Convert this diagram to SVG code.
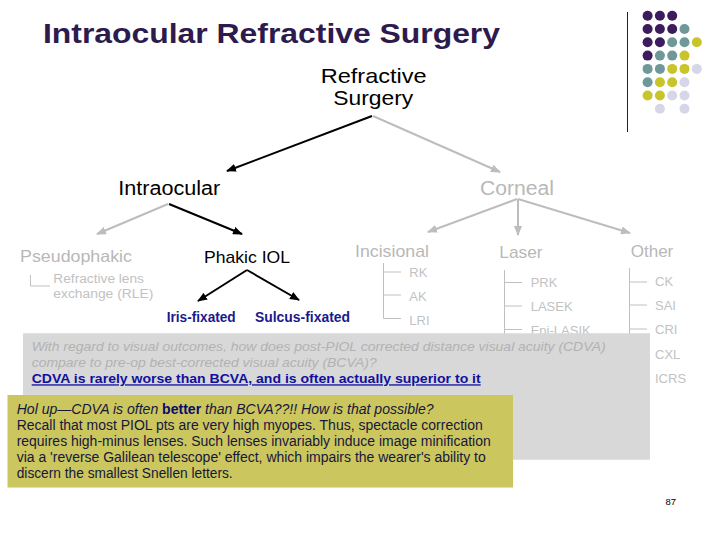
<svg xmlns="http://www.w3.org/2000/svg" width="720" height="540" viewBox="0 0 720 540">
<style>
text{font-family:"Liberation Sans",Arial,sans-serif}
.title{font-size:28px;font-weight:bold;fill:#2d1b4e}
.blk{fill:#000}
.gry{fill:#b8b8b8}
.lt{fill:#c2c2c2;font-size:13px}
.blue{fill:#1a1a8c;font-weight:bold;font-size:14px}
.ab{stroke:#000;stroke-width:2;fill:none}
.ag{stroke:#bdbdbd;stroke-width:2;fill:none}
.tree{stroke:#c0c0c0;stroke-width:1;fill:none}
.p{fill:#3c1c5c}.t{fill:#6f9999}.y{fill:#c8c42c}.l{fill:#d6d6e8}
.q{font-size:13px;font-style:italic;fill:#b2b2b2}
.a{font-size:13px;font-weight:bold;fill:#1010a0;text-decoration:underline}
.n{font-size:14px;fill:#16163c}
</style>
<defs>
<marker id="mb" markerUnits="userSpaceOnUse" markerWidth="10" markerHeight="8" refX="9" refY="4" orient="auto"><path d="M0,0 L10,4 L0,8 z" fill="#000"/></marker>
<marker id="mg" markerUnits="userSpaceOnUse" markerWidth="10" markerHeight="8" refX="9" refY="4" orient="auto"><path d="M0,0 L10,4 L0,8 z" fill="#bdbdbd"/></marker>
</defs>
<rect width="720" height="540" fill="#fff"/>
<g id="title"><text class="title" x="43" y="43" textLength="457" lengthAdjust="spacingAndGlyphs">Intraocular Refractive Surgery</text></g>
<g id="decor">
<line x1="627.5" y1="12" x2="627.5" y2="132" stroke="#222" stroke-width="1"/>
<circle class="p" cx="647.6" cy="15.7" r="5"/><circle class="p" cx="659.9" cy="15.7" r="5"/><circle class="p" cx="672.2" cy="15.7" r="5"/>
<circle class="p" cx="647.6" cy="29" r="5"/><circle class="p" cx="659.9" cy="29" r="5"/><circle class="p" cx="672.2" cy="29" r="5"/><circle class="t" cx="684.5" cy="29" r="5"/>
<circle class="p" cx="647.6" cy="42.3" r="5"/><circle class="p" cx="659.9" cy="42.3" r="5"/><circle class="t" cx="672.2" cy="42.3" r="5"/><circle class="t" cx="684.5" cy="42.3" r="5"/><circle class="y" cx="696.8" cy="42.3" r="5"/>
<circle class="p" cx="647.6" cy="55.6" r="5"/><circle class="t" cx="659.9" cy="55.6" r="5"/><circle class="t" cx="672.2" cy="55.6" r="5"/><circle class="y" cx="684.5" cy="55.6" r="5"/>
<circle class="t" cx="647.6" cy="68.9" r="5"/><circle class="t" cx="659.9" cy="68.9" r="5"/><circle class="y" cx="672.2" cy="68.9" r="5"/><circle class="y" cx="684.5" cy="68.9" r="5"/><circle class="l" cx="696.8" cy="68.9" r="5"/>
<circle class="t" cx="647.6" cy="82.2" r="5"/><circle class="y" cx="659.9" cy="82.2" r="5"/><circle class="y" cx="672.2" cy="82.2" r="5"/><circle class="l" cx="684.5" cy="82.2" r="5"/>
<circle class="y" cx="647.6" cy="95.5" r="5"/><circle class="y" cx="659.9" cy="95.5" r="5"/><circle class="l" cx="672.2" cy="95.5" r="5"/><circle class="l" cx="684.5" cy="95.5" r="5"/>
<circle class="l" cx="659.9" cy="108.8" r="5"/><circle class="l" cx="684.5" cy="108.8" r="5"/>
</g>
<g id="connectors">
<line class="ab" x1="372" y1="116" x2="227" y2="171" marker-end="url(#mb)"/>
<line class="ag" x1="373" y1="116" x2="500" y2="172" marker-end="url(#mg)"/>
<line class="ag" x1="168" y1="204" x2="97" y2="234" marker-end="url(#mg)"/>
<line class="ab" x1="169" y1="204" x2="242" y2="234" marker-end="url(#mb)"/>
<line class="ab" x1="247" y1="270" x2="198" y2="301" marker-end="url(#mb)"/>
<line class="ab" x1="247" y1="270" x2="299" y2="300" marker-end="url(#mb)"/>
<line class="ag" x1="517" y1="199" x2="428" y2="232" marker-end="url(#mg)"/>
<line class="ag" x1="518" y1="199" x2="518" y2="235" marker-end="url(#mg)"/>
<line class="ag" x1="518" y1="199" x2="630" y2="233" marker-end="url(#mg)"/>
<path class="tree" d="M30.5,275 V286 H50"/>
<path class="tree" d="M383.5,263 V318.5 H401 M383.5,272 H401 M383.5,295 H401"/>
<path class="tree" d="M504.5,270 V380 M504.5,282.5 H522 M504.5,306 H522 M504.5,329.5 H522"/>
<path class="tree" d="M629.5,268 V380 M629.5,282 H647 M629.5,305 H647 M629.5,329 H647"/>
</g>
<g id="refractive-surgery"><text class="blk" style="font-size:21px" x="320.7" y="83" textLength="106" lengthAdjust="spacingAndGlyphs">Refractive</text><text class="blk" style="font-size:21px" x="333.3" y="105" textLength="80" lengthAdjust="spacingAndGlyphs">Surgery</text></g>
<g id="intraocular"><text class="blk" style="font-size:20px" x="118.3" y="195" textLength="102" lengthAdjust="spacingAndGlyphs">Intraocular</text></g>
<g id="corneal"><text class="gry" style="font-size:20px" x="480" y="195" textLength="74" lengthAdjust="spacingAndGlyphs">Corneal</text></g>
<g id="pseudophakic"><text class="gry" style="font-size:16.5px" x="20" y="262" textLength="112" lengthAdjust="spacingAndGlyphs">Pseudophakic</text>
<text class="lt" style="font-size:12.5px" x="53.3" y="283.3" textLength="90.7" lengthAdjust="spacingAndGlyphs">Refractive lens</text>
<text class="lt" style="font-size:12.5px" x="53.3" y="298.3" textLength="100" lengthAdjust="spacingAndGlyphs">exchange (RLE)</text></g>
<g id="phakic-iol"><text class="blk" style="font-size:17px" x="204" y="263.3" textLength="86" lengthAdjust="spacingAndGlyphs">Phakic IOL</text></g>
<g id="iris-fixated"><text class="blue" x="166.7" y="321.7" textLength="69" lengthAdjust="spacingAndGlyphs">Iris-fixated</text></g>
<g id="sulcus-fixated"><text class="blue" x="255" y="322" textLength="95" lengthAdjust="spacingAndGlyphs">Sulcus-fixated</text></g>
<g id="incisional"><text class="gry" style="font-size:17px" x="355" y="257.3" textLength="74" lengthAdjust="spacingAndGlyphs">Incisional</text>
<text class="lt" x="409.3" y="277">RK</text><text class="lt" x="409.3" y="301">AK</text><text class="lt" x="409.3" y="324.5">LRI</text></g>
<g id="laser"><text class="gry" style="font-size:17px" x="499.3" y="258" textLength="43.3" lengthAdjust="spacingAndGlyphs">Laser</text>
<text class="lt" x="530.7" y="287">PRK</text><text class="lt" x="530.7" y="311">LASEK</text><text class="lt" x="530.7" y="334.5">Epi-LASIK</text></g>
<g id="other"><text class="gry" style="font-size:17px" x="630.7" y="257" textLength="42.6" lengthAdjust="spacingAndGlyphs">Other</text>
<text class="lt" x="655" y="286">CK</text><text class="lt" x="655" y="310">SAI</text><text class="lt" x="655" y="334">CRI</text><text class="lt" x="655" y="359">CXL</text><text class="lt" x="655" y="383">ICRS</text></g>
<g id="question">
<rect x="23" y="333.3" width="627" height="126.4" fill="#d8d8d8"/>
<text class="q" x="31.7" y="350.7" textLength="574" lengthAdjust="spacingAndGlyphs">With regard to visual outcomes, how does post-PIOL corrected distance visual acuity (CDVA)</text>
<text class="q" x="31.7" y="366.7" textLength="345" lengthAdjust="spacingAndGlyphs">compare to pre-op best-corrected visual acuity (BCVA)?</text>
<text class="a" x="31.7" y="383.3" textLength="449" lengthAdjust="spacingAndGlyphs">CDVA is rarely worse than BCVA, and is often actually superior to it</text>
</g>
<g id="explanation">
<rect x="7.5" y="395" width="505.5" height="92.5" fill="#cbc65e"/>
<text class="n" x="16.7" y="414" textLength="417" lengthAdjust="spacingAndGlyphs"><tspan font-style="italic">Hol up—CDVA is often </tspan><tspan font-weight="bold" fill="#0a0a70">better</tspan><tspan font-style="italic"> than BCVA??!! How is that possible?</tspan></text>
<text class="n" x="16.7" y="429.5" textLength="466" lengthAdjust="spacingAndGlyphs">Recall that most PIOL pts are very high myopes. Thus, spectacle correction</text>
<text class="n" x="16.7" y="445.5" textLength="474" lengthAdjust="spacingAndGlyphs">requires high-minus lenses. Such lenses invariably induce image minification</text>
<text class="n" x="16.7" y="461.5" textLength="469" lengthAdjust="spacingAndGlyphs">via a 'reverse Galilean telescope' effect, which impairs the wearer's ability to</text>
<text class="n" x="16.7" y="477.7" textLength="216" lengthAdjust="spacingAndGlyphs">discern the smallest Snellen letters.</text>
</g>
<g id="page-number"><text x="665.5" y="505" style="font-size:9.5px" fill="#000">87</text></g>
</svg>
